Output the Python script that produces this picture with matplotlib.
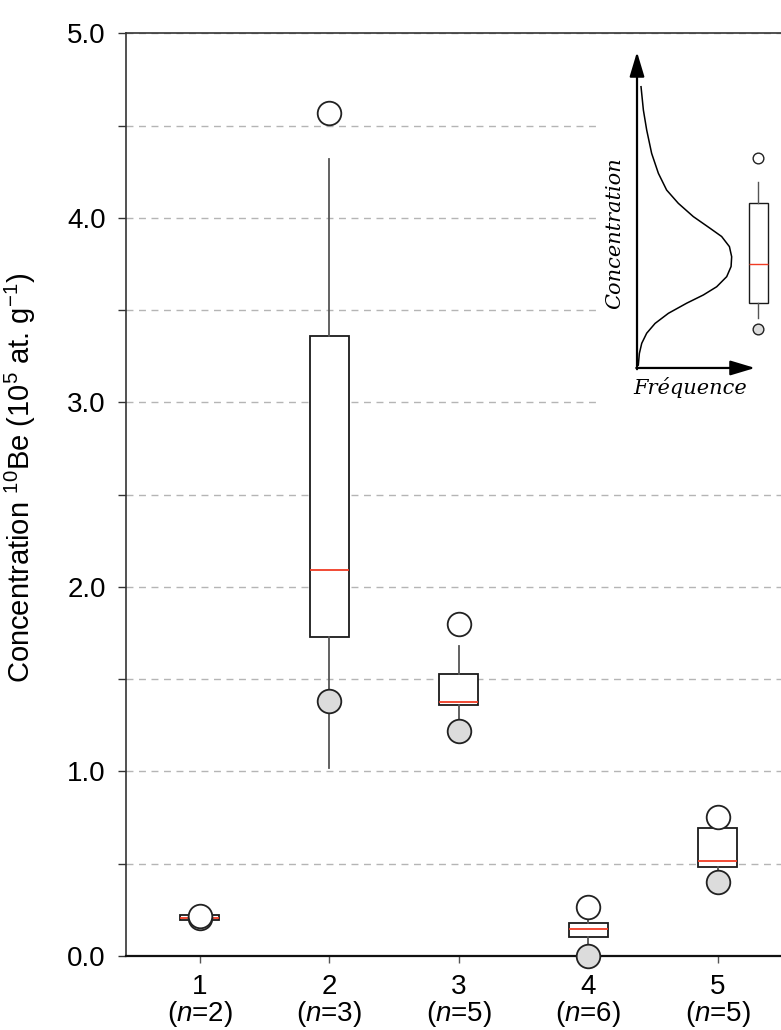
import matplotlib
matplotlib.use("Agg")
import matplotlib.pyplot as plt
from matplotlib.ticker import MultipleLocator, FormatStrFormatter

plt.rcParams['font.family'] = ['Liberation Sans', 'DejaVu Sans']
plt.rcParams['mathtext.fontset'] = 'custom'
plt.rcParams['mathtext.rm'] = 'Liberation Sans'
plt.rcParams['mathtext.it'] = 'Liberation Sans:italic'

# --- data (10^5 at/g) ---
groups = [1, 2, 3, 4, 5]
counts = [2, 3, 5, 6, 5]
q1 = [0.195, 1.73, 1.36, 0.10, 0.48]
medians = [0.205, 2.09, 1.375, 0.145, 0.515]
q3 = [0.22, 3.36, 1.53, 0.18, 0.69]
whis_lo = [0.195, 1.02, 1.24, 0.02, 0.45]
whis_hi = [0.22, 4.32, 1.68, 0.22, 0.72]
high_pts = [0.217, 4.57, 1.80, 0.266, 0.75]   # open circles
low_pts = [0.204, 1.38, 1.22, 0.0, 0.40]      # grey circles

# schematic inset (frequency / concentration in arrow units)
curve_freq = [0.011, 0.020, 0.040, 0.082, 0.153, 0.266, 0.421, 0.562, 0.675, 0.760,
              0.797, 0.802, 0.783, 0.717, 0.619, 0.477, 0.350, 0.251, 0.181, 0.124,
              0.082, 0.054, 0.034]
curve_conc = [0.009, 0.046, 0.078, 0.110, 0.141, 0.173, 0.205, 0.231, 0.257, 0.289,
              0.321, 0.352, 0.384, 0.416, 0.442, 0.479, 0.521, 0.563, 0.616, 0.679,
              0.753, 0.816, 0.890]
demo_box = dict(q1=0.205, med=0.329, q3=0.521, whislo=0.158, whishi=0.59)
demo_high = 0.664
demo_low = 0.122

W, H = 781, 1030
fig = plt.figure(figsize=(W / 100, H / 100), dpi=100)
ax = fig.add_axes([126 / W, 1 - 955.8 / H, (W - 126) / W, (955.8 - 33.3) / H])

stats = []
for i in range(len(groups)):
    stats.append(dict(q1=q1[i], med=medians[i], q3=q3[i],
                      whislo=whis_lo[i], whishi=whis_hi[i], fliers=[]))

ax.bxp(stats, positions=groups, widths=0.30, showcaps=False, showfliers=False,
       patch_artist=True,
       boxprops=dict(facecolor='white', edgecolor='#1a1a1a', linewidth=1.3),
       medianprops=dict(color='#f03c24', linewidth=1.3),
       whiskerprops=dict(color='#555555', linewidth=1.3),
       zorder=3)

ax.plot(groups, low_pts, 'o', ms=17, mfc='#dcdcdc', mec='#222222', mew=1.3,
        zorder=4, clip_on=False)
ax.plot(groups, high_pts, 'o', ms=17, mfc='white', mec='#222222', mew=1.3,
        zorder=5, clip_on=False)

ax.set_xlim(0.43, 5.49)
ax.set_ylim(0, 5)
ax.set_xticks(groups)
ax.set_xticklabels([f"{g}\n($n$={n})" for g, n in zip(groups, counts)])
for lab in ax.get_xticklabels():
    lab.set_linespacing(0.95)
ax.yaxis.set_major_locator(MultipleLocator(1.0))
ax.yaxis.set_minor_locator(MultipleLocator(0.5))
ax.yaxis.set_major_formatter(FormatStrFormatter('%.1f'))

ax.set_axisbelow(True)
ax.yaxis.grid(True, which='both', color='#b5b5b5', linestyle=(0, (5, 4)), linewidth=1.0)

ax.tick_params(axis='y', which='both', direction='out', length=5.5, width=1.0,
               color='#333333', labelsize=20, pad=9)
ax.tick_params(axis='x', direction='out', length=5.3, width=1.0,
               color='#555555', labelsize=20, pad=8)
ax.spines['right'].set_visible(False)
ax.spines['left'].set_color('#333333')
ax.spines['left'].set_linewidth(1.2)
ax.spines['top'].set_color('#333333')
ax.spines['top'].set_linewidth(1.2)
ax.spines['bottom'].set_color('#111111')
ax.spines['bottom'].set_linewidth(1.6)

ax.set_ylabel(r"Concentration $^{10}$Be (10$^{5}$ at. g$^{-1}$)", fontsize=21)
ax.yaxis.set_label_coords(-0.134, 0.518)

# --- inset sketch ---
axi = fig.add_axes([597 / W, 1 - 410 / H, 184 / W, 365 / H])
axi.set_facecolor('white')
for s in axi.spines.values():
    s.set_visible(False)

arrow = dict(arrowstyle='-|>,head_length=1.0,head_width=0.3', color='black',
             lw=1.6, shrinkA=0, shrinkB=0, mutation_scale=15)
axi.annotate('', xy=(1.0, 0), xytext=(-0.006, 0), arrowprops=arrow)
axi.annotate('', xy=(0, 1.0), xytext=(0, -0.004), arrowprops=arrow)
axi.plot(curve_freq, curve_conc, color='black', lw=1.1)

axi.bxp([dict(demo_box, fliers=[])], positions=[1.028], widths=0.161,
        showcaps=False, showfliers=False, patch_artist=True,
        boxprops=dict(facecolor='white', edgecolor='#1a1a1a', linewidth=1.0),
        medianprops=dict(color='#f03c24', linewidth=1.0),
        whiskerprops=dict(color='#555555', linewidth=1.0))
axi.plot([1.028], [demo_low], 'o', ms=7.7, mfc='#dcdcdc', mec='#222222', mew=1.0)
axi.plot([1.028], [demo_high], 'o', ms=7.7, mfc='white', mec='#222222', mew=1.0)

axi.text(-0.186, 0.427, 'Concentration', rotation=90, ha='center', va='center',
         family='DejaVu Serif', style='italic', fontsize=15)
axi.text(0.45, -0.063, 'Fréquence', ha='center', va='center',
         family='DejaVu Serif', style='italic', fontsize=15)

axi.set_xticks([])
axi.set_yticks([])
axi.set_xlim(-0.339, 1.220)
axi.set_ylim(-0.133, 1.022)

fig.savefig('out.png', dpi=100)
